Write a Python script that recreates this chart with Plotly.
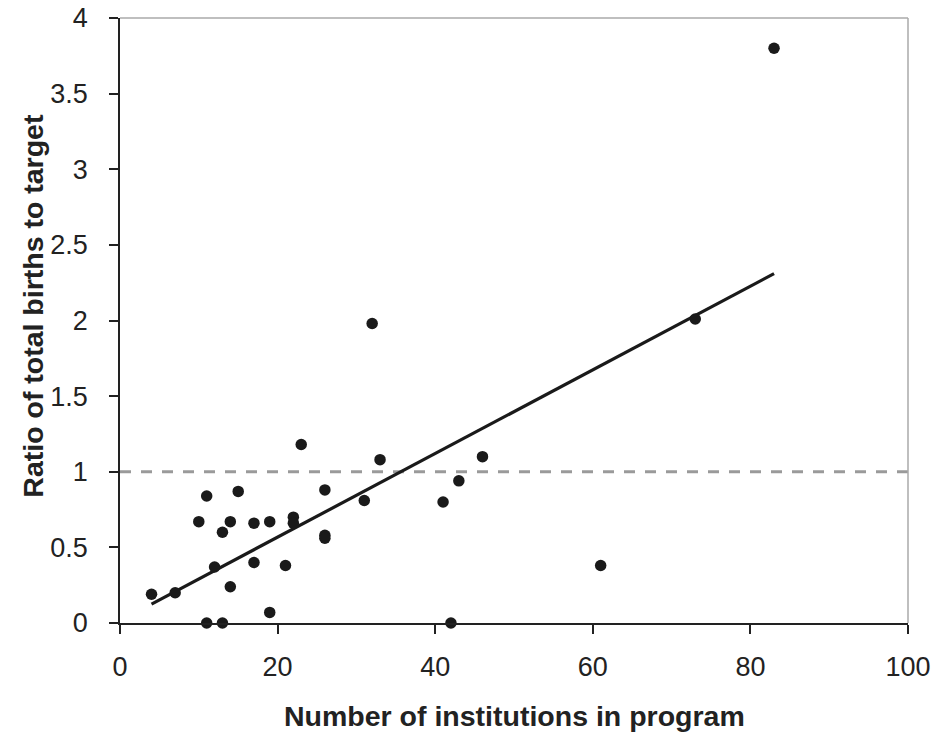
import plotly.graph_objects as go

# Data
institutions = [4, 7, 10, 11, 11, 12, 13, 13, 14, 14, 15, 17, 17, 19, 19, 21,
                22, 22, 23, 26, 26, 26, 31, 32, 33, 41, 42, 43, 46, 61, 73, 83]
ratio = [0.19, 0.20, 0.67, 0.84, 0.00, 0.37, 0.60, 0.00, 0.67, 0.24, 0.87, 0.66,
         0.40, 0.67, 0.07, 0.38, 0.70, 0.66, 1.18, 0.88, 0.58, 0.56, 0.81, 1.98,
         1.08, 0.80, 0.00, 0.94, 1.10, 0.38, 2.01, 3.80]

trend_x = [4, 83]
trend_y = [0.125, 2.31]

target_level = 1.0

x_ticks = [0, 20, 40, 60, 80, 100]
y_ticks = [0, 0.5, 1, 1.5, 2, 2.5, 3, 3.5, 4]
y_tick_labels = ["0", "0.5", "1", "1.5", "2", "2.5", "3", "3.5", "4"]

x_title = "Number of institutions in program"
y_title = "Ratio of total births to target"

FONT = "Liberation Sans, Arial, Helvetica, sans-serif"
INK = "#222222"

fig = go.Figure()

fig.add_trace(go.Scatter(
    x=[0, 100], y=[target_level, target_level], mode="lines",
    line=dict(color="#9a9a9a", width=3, dash="11px,10px"),
    hoverinfo="skip", showlegend=False))

fig.add_trace(go.Scatter(
    x=trend_x, y=trend_y, mode="lines",
    line=dict(color="#1a1a1a", width=3.2),
    showlegend=False))

fig.add_trace(go.Scatter(
    x=institutions, y=ratio, mode="markers",
    marker=dict(color="#1a1a1a", size=11.5),
    showlegend=False, cliponaxis=False))

# top and right border (gray)
fig.add_shape(type="line", xref="paper", yref="paper", x0=0, x1=1, y0=1, y1=1,
              line=dict(color="#aaaaaa", width=1.5))
fig.add_shape(type="line", xref="paper", yref="paper", x0=1, x1=1, y0=0, y1=1,
              line=dict(color="#aaaaaa", width=1.5))

# axis titles
fig.add_annotation(text="<b>%s</b>" % x_title, xref="paper", yref="paper",
                   x=0.501, y=-0.1535, xanchor="center", yanchor="middle",
                   showarrow=False, font=dict(size=28.5, family=FONT, color=INK))
fig.add_annotation(text="<b>%s</b>" % y_title, xref="paper", yref="paper",
                   x=-0.11, y=0.525, xanchor="center", yanchor="middle", textangle=-90,
                   showarrow=False, font=dict(size=28.5, family=FONT, color=INK))

fig.update_layout(
    width=940, height=733,
    margin=dict(l=120, r=32, t=18, b=110, autoexpand=False),
    paper_bgcolor="white", plot_bgcolor="white",
    font=dict(family=FONT, color=INK, size=27),
    xaxis=dict(
        range=[0, 100], tickvals=x_ticks, ticks="outside", ticklen=9,
        tickwidth=1.5, tickcolor=INK, automargin=False,
        showline=True, linecolor=INK, linewidth=1.8,
        showgrid=False, zeroline=False, ticklabelstandoff=10,
        ticklabeloverflow="allow",
        tickfont=dict(size=27, family=FONT, color=INK),
    ),
    yaxis=dict(
        range=[0, 4], tickvals=y_ticks, ticktext=y_tick_labels,
        ticks="outside", ticklen=9, tickwidth=1.5, tickcolor=INK, automargin=False,
        showline=True, linecolor=INK, linewidth=1.8, ticklabelstandoff=16,
        ticklabeloverflow="allow",
        showgrid=False, zeroline=False,
        tickfont=dict(size=27, family=FONT, color=INK),
    ),
)

fig.write_html("out.html",
               config={"displayModeBar": False},
               post_script="document.body.style.margin='0';")
